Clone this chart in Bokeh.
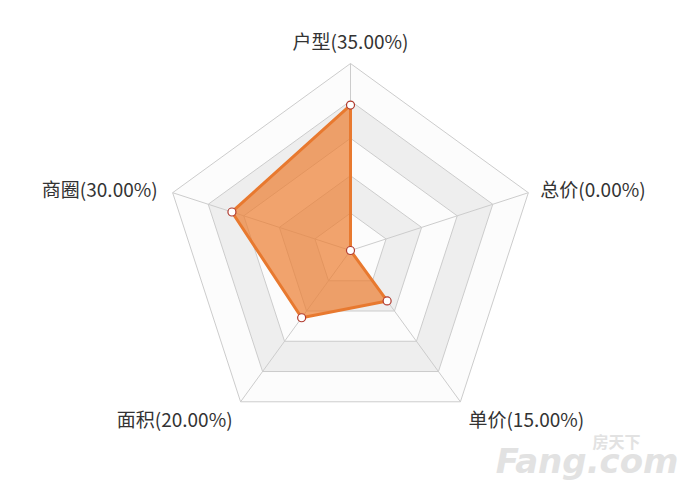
from math import pi, cos, sin
from bokeh.plotting import figure
from bokeh.models import ColumnDataSource
from bokeh.core.properties import value
from bokeh.embed import file_html
from bokeh.resources import INLINE

# 指标 (顺时针，从正上方开始)
labels = ["户型(35.00%)", "总价(0.00%)", "单价(15.00%)", "面积(20.00%)", "商圈(30.00%)"]
values = [35, 0, 15, 20, 30]
max_value = 45
n_levels = 5

FONT = "Noto Sans CJK SC"
n = len(labels)
angles = [pi / 2 - i * 2 * pi / n for i in range(n)]

W, H = 684, 484
PX = 187 / max_value  # 像素 / 单位
cx, cy = 350, 250
p = figure(width=W, height=H, output_backend="svg", toolbar_location=None,
           x_range=(-cx / PX, (W - cx) / PX), y_range=(-(H - cy) / PX, cy / PX),
           tools="", min_border=0)
p.axis.visible = False
p.grid.grid_line_color = None
p.outline_line_color = None
p.background_fill_color = "white"

# 背景分隔区 (从外到内绘制)
band_colors = ["#fcfcfc", "#eeeeee"]
for lvl in range(n_levels, 0, -1):
    r = max_value * lvl / n_levels
    xs = [r * cos(a) for a in angles]
    ys = [r * sin(a) for a in angles]
    p.patch(xs, ys, fill_color=band_colors[(lvl - 1) % 2], line_color="#cccccc", line_width=1)

# 轴线
for a in angles:
    p.line([0, max_value * cos(a)], [0, max_value * sin(a)], line_color="#cccccc", line_width=1)

# 数据
src = ColumnDataSource(dict(
    x=[v * cos(a) for v, a in zip(values, angles)],
    y=[v * sin(a) for v, a in zip(values, angles)],
))
p.patch("x", "y", source=src, fill_color="#ed7d31", fill_alpha=0.7,
        line_color="#e8792f", line_width=3, line_join="round")
p.scatter("x", "y", source=src, size=8, fill_color="white", line_color="#b03a2e", line_width=1.2)

# 标签
aligns = ["center", "left", "left", "right", "right"]
baselines = ["bottom", "middle", "top", "top", "middle"]
xoffs = [0, 12, 8, -8, -15]
yoffs = [-10, -4, 3, 3, -4]
for lab, a, al, bl, xo, yo in zip(labels, angles, aligns, baselines, xoffs, yoffs):
    p.text([max_value * cos(a)], [max_value * sin(a)], text=[lab], text_align=al,
           text_baseline=bl, x_offset=xo, y_offset=yo, text_font=value(FONT),
           text_font_size="19px", text_color="#333333")

# 水印
p.text([(592 - cx) / PX], [(cy - 440) / PX], text=["房天下"], text_align="left",
       text_baseline="middle", text_font=value(FONT), text_font_size="16px",
       text_color="#e2e2e2", text_font_style="bold")
p.text([(678 - cx) / PX], [(cy - 460) / PX], text=["Fang.com"], text_align="right",
       text_baseline="middle", text_font=value("DejaVu Sans"), text_font_size="34px",
       text_color="#e2e2e2", text_font_style="bold italic")

open("out.html", "w").write(file_html(p, INLINE))
